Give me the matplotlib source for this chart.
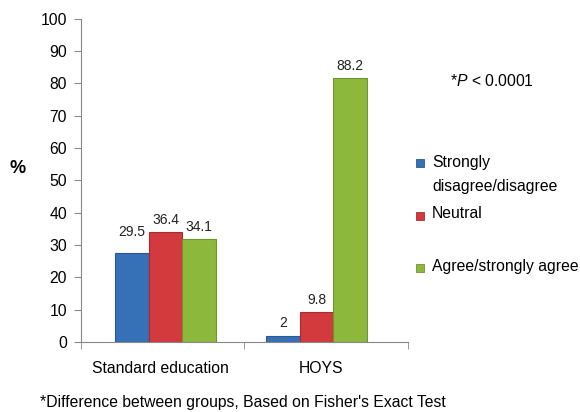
#!/usr/bin/env python3
# plot.py - agreement by education group (bar chart)

import numpy as np
import matplotlib
matplotlib.use("Agg")
import matplotlib.pyplot as plt
from matplotlib.patches import Rectangle

# ── Data ─────────────────────────────────────────────────────────────────────
groups      = ["Standard education", "HOYS"]
responses   = ["Strongly\ndisagree/disagree", "Neutral", "Agree/strongly agree"]
# bar heights as drawn in the picture
heights     = [[27.5, 1.95], [34.0, 9.2], [31.7, 81.5]]
# printed value labels
value_text  = [["29.5", "2"], ["36.4", "9.8"], ["34.1", "88.2"]]
colors      = ["#3670b6", "#d23a3d", "#8cb93c"]
edge_colors = ["#2a5a94", "#a82c2f", "#6e9530"]
# ─────────────────────────────────────────────────────────────────────────────

plt.rcParams["font.family"] = ["Liberation Sans", "DejaVu Sans"]
plt.rcParams["mathtext.fontset"] = "custom"
plt.rcParams["mathtext.it"] = "Liberation Sans:italic"
plt.rcParams["mathtext.rm"] = "Liberation Sans"

FS = 11.3

fig = plt.figure(figsize=(5.8, 4.12), dpi=100)
ax = fig.add_axes([81 / 580, 70 / 412, (408 - 81) / 580, 323.4 / 412])

x = np.arange(len(groups))
width = 0.222
for i in range(len(responses)):
    xs = x + (i - 1) * width
    bars = ax.bar(xs, heights[i], width, color=colors[i],
                  edgecolor=edge_colors[i], linewidth=0.8)
    for j, b in enumerate(bars):
        off = 15 if value_text[i][j] == "29.5" else 9
        ax.annotate(value_text[i][j], (b.get_x() + b.get_width() / 2, b.get_height()),
                    xytext=(0, off), textcoords="offset points",
                    ha="center", va="center", fontsize=10, color="#222222")

ax.set_xlim(-0.56, 1.606)
ax.set_ylim(0, 100)
ax.set_yticks(range(0, 101, 10))
ax.tick_params(axis="y", labelsize=FS, length=5, color="#888888", pad=5)
# category labels sit slightly off the group centres, as in the original
ax.set_xticks([-0.036, 1.03])
ax.set_xticklabels(groups, fontsize=FS)
ax.tick_params(axis="x", length=0, pad=14)
ax.set_xticks([-0.56, 0.52, 1.606], minor=True)
ax.tick_params(axis="x", which="minor", length=5, color="#888888")

for s in ["top", "right"]:
    ax.spines[s].set_visible(False)
for s in ["left", "bottom"]:
    ax.spines[s].set_color("#888888")

fig.text(18 / 580, 1 - 168 / 412, "%", fontsize=13, fontweight="bold",
         ha="center", va="center")

fig.text(450 / 580, 1 - 81 / 412, "*$P$ < 0.0001", fontsize=FS,
         ha="left", va="center")

# legend drawn by hand to keep the spacing of the original
marker_y = [163, 216, 268]
for i in range(len(responses)):
    y = marker_y[i]
    fig.patches.append(Rectangle((416 / 580, 1 - (y + 4) / 412), 8 / 580, 8 / 412,
                                 transform=fig.transFigure, facecolor=colors[i],
                                 edgecolor=edge_colors[i], linewidth=0.6))

legend_lines = responses[0].split("\n") + responses[1:]
legend_y = [162, 186, 214, 266]
for lab, y in zip(legend_lines, legend_y):
    fig.text(432 / 580, 1 - y / 412, lab, fontsize=FS, ha="left", va="center")

fig.text(40 / 580, 1 - 403 / 412,
         "*Difference between groups, Based on Fisher's Exact Test",
         fontsize=FS, ha="left", va="center")

fig.savefig("out.png", dpi=100)
